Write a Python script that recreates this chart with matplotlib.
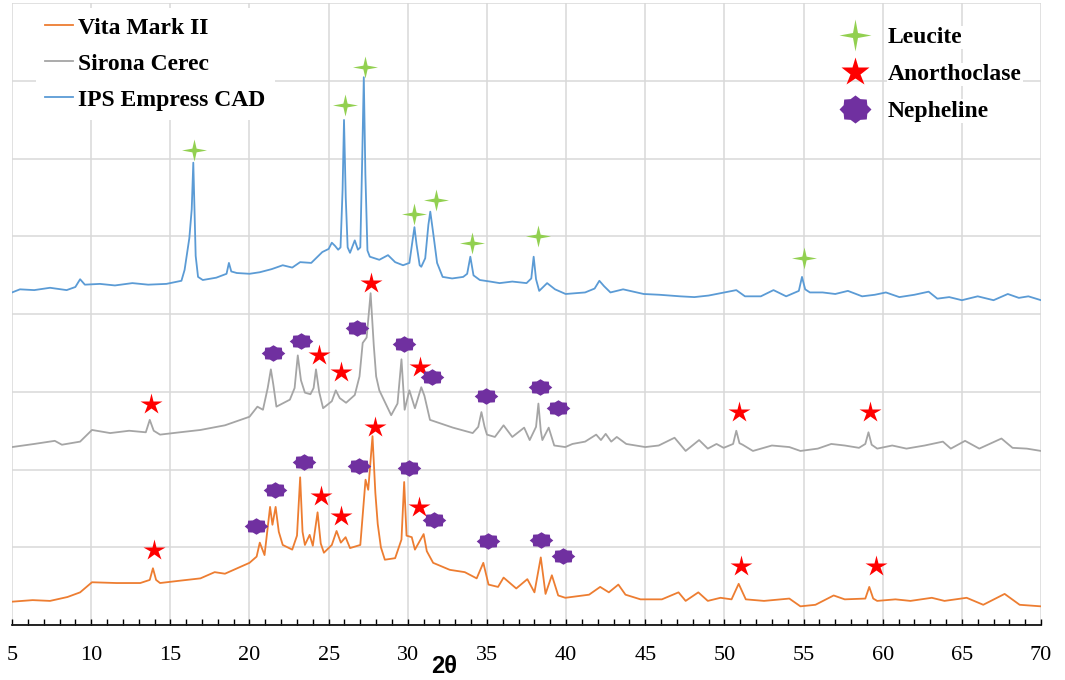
import numpy as np
import matplotlib
matplotlib.use("Agg")
import matplotlib.pyplot as plt
from matplotlib.path import Path
from matplotlib.lines import Line2D
from matplotlib.transforms import blended_transform_factory

# ---- diffraction traces (2-theta, stacked intensity) ----
ips_tt = [5.0, 5.5, 6.4, 7.4, 8.45, 9.0, 9.3, 9.6, 10.55, 11.5, 12.6, 13.6, 14.75, 15.7, 15.9,
          16.2, 16.35, 16.45, 16.6, 16.75, 17.05, 17.9, 18.55, 18.7, 18.85, 19.2, 20.0, 20.65,
          21.4, 22.1, 22.7, 23.2, 23.9, 24.6, 25.0, 25.2, 25.4, 25.6, 25.75, 25.88, 25.97, 26.08,
          26.2, 26.35, 26.65, 26.85, 27.0, 27.12, 27.22, 27.32, 27.45, 27.6, 28.2, 28.75, 29.2,
          29.7, 30.1, 30.3, 30.42, 30.55, 30.75, 30.85, 31.1, 31.3, 31.42, 31.6, 31.85, 32.2, 32.8,
          33.5, 33.75, 33.95, 34.15, 34.55, 35.2, 35.8, 36.6, 37.5, 37.8, 37.95, 38.1, 38.3, 38.8,
          39.3, 39.97, 41.2, 41.8, 42.1, 42.4, 42.8, 43.6, 44.9, 45.9, 47.2, 48.1, 49.0, 49.75,
          50.75, 51.3, 52.3, 53.1, 53.9, 54.7, 54.9, 55.1, 55.4, 56.2, 57.0, 57.8, 58.7, 59.5,
          60.2, 61.05, 62.0, 62.9, 63.45, 64.2, 65.0, 66.0, 67.0, 67.9, 68.6, 69.2, 70.0]
ips_i = [4.28, 4.32, 4.31, 4.34, 4.31, 4.35, 4.45, 4.38, 4.39, 4.37, 4.40, 4.38, 4.39, 4.43, 4.57,
         4.98, 5.35, 5.95, 4.75, 4.48, 4.44, 4.47, 4.52, 4.66, 4.55, 4.53, 4.52, 4.54,
         4.58, 4.63, 4.60, 4.67, 4.66, 4.80, 4.84, 4.92, 4.88, 4.83, 4.86, 5.60, 6.50, 5.50,
         4.86, 4.79, 4.95, 4.83, 4.86, 6.00, 7.05, 5.80, 4.82, 4.74, 4.70, 4.76, 4.67,
         4.63, 4.66, 4.95, 5.12, 4.90, 4.63, 4.61, 4.72, 5.15, 5.32, 5.05, 4.66, 4.48, 4.46,
         4.48, 4.52, 4.74, 4.50, 4.44, 4.42, 4.40, 4.42, 4.40, 4.46, 4.74, 4.45, 4.30, 4.40,
         4.32, 4.26, 4.28, 4.33, 4.43, 4.36, 4.28, 4.32, 4.26, 4.25, 4.23, 4.22, 4.24, 4.27,
         4.31, 4.23, 4.23, 4.31, 4.23, 4.30, 4.48, 4.32, 4.28, 4.28, 4.26, 4.30, 4.23, 4.25,
         4.28, 4.22, 4.25, 4.29, 4.20, 4.22, 4.18, 4.23, 4.18, 4.26, 4.21, 4.23, 4.18]

cerec_tt = [5.0, 6.4, 7.7, 8.15, 9.3, 10.05, 11.2, 12.4, 13.45, 13.7, 13.95, 14.35, 15.6, 16.9,
            18.45, 20.0, 20.5, 20.85, 21.15, 21.35, 21.5, 21.7, 22.55, 22.85, 23.05, 23.25, 23.5,
            23.85, 24.05, 24.2, 24.4, 24.65, 25.2, 25.45, 25.7, 26.1, 26.65, 26.95, 27.15, 27.4,
            27.65, 27.85, 28.0, 28.2, 28.95, 29.35, 29.6, 29.8, 30.1, 30.45, 30.85, 31.05, 31.4,
            32.85, 34.1, 34.45, 34.65, 34.85, 35.0, 35.5, 36.05, 36.6, 37.35, 37.7, 38.1, 38.25,
            38.4, 38.5, 38.9, 39.25, 39.95, 40.4, 41.2, 41.9, 42.2, 42.5, 42.85, 43.2, 43.8, 45.0,
            45.85, 46.85, 47.55, 48.4, 48.95, 49.5, 49.95, 50.55, 50.75, 50.95, 51.15, 51.8, 53.0,
            54.1, 54.8, 55.9, 56.75, 57.6, 58.5, 58.9, 59.1, 59.3, 59.65, 60.6, 61.5, 62.65, 63.8,
            64.3, 65.2, 66.1, 67.5, 68.2, 69.1, 70.0]
cerec_i = [2.29, 2.33, 2.37, 2.32, 2.36, 2.51, 2.47, 2.50, 2.48, 2.64, 2.50, 2.45, 2.48, 2.51,
           2.57, 2.68, 2.81, 2.77, 3.05, 3.29, 3.10, 2.81, 2.90, 3.05, 3.47, 3.15, 2.99,
           2.97, 3.05, 3.29, 3.00, 2.79, 2.88, 3.02, 2.92, 2.86, 2.96, 3.20, 3.63, 3.70,
           4.27, 3.60, 3.20, 3.02, 2.70, 2.85, 3.42, 2.77, 3.02, 2.79, 3.06, 2.95, 2.64,
           2.54, 2.47, 2.55, 2.74, 2.55, 2.45, 2.42, 2.57, 2.42, 2.54, 2.38, 2.55, 2.85,
           2.50, 2.38, 2.54, 2.31, 2.29, 2.33, 2.36, 2.45, 2.38, 2.46, 2.36, 2.42, 2.33, 2.29,
           2.31, 2.41, 2.24, 2.38, 2.27, 2.33, 2.28, 2.33, 2.50, 2.34, 2.32, 2.24, 2.31,
           2.29, 2.24, 2.27, 2.33, 2.31, 2.28, 2.33, 2.48, 2.32, 2.27, 2.31, 2.27, 2.31, 2.36,
           2.27, 2.37, 2.27, 2.40, 2.28, 2.27, 2.24]

vita_tt = [5.0, 6.3, 7.4, 8.5, 9.3, 10.05, 11.6, 13.1, 13.7, 13.9, 14.1, 14.35, 15.6, 16.9, 17.8,
           18.45, 20.0, 20.45, 20.65, 20.95, 21.3, 21.45, 21.65, 21.85, 22.1, 22.7, 23.0, 23.2,
           23.35, 23.5, 23.8, 24.0, 24.3, 24.5, 24.7, 25.2, 25.5, 25.77, 26.07, 26.35, 27.0,
           27.33, 27.5, 27.77, 27.95, 28.1, 28.3, 28.55, 29.2, 29.6, 29.77, 29.92, 30.25, 30.45,
           31.0, 31.2, 31.6, 32.65, 33.6, 34.35, 34.77, 35.1, 35.7, 36.05, 36.85, 37.55, 38.0,
           38.4, 38.7, 39.1, 39.5, 39.95, 41.45, 42.15, 42.7, 43.3, 43.75, 44.7, 46.05, 47.1,
           47.55, 48.35, 48.95, 49.75, 50.45, 50.9, 51.35, 52.5, 54.1, 54.8, 55.75, 56.9, 57.6,
           58.9, 59.15, 59.4, 59.65, 60.8, 61.75, 63.1, 63.9, 65.3, 66.35, 67.7, 68.65, 70.0]
vita_i = [0.30, 0.32, 0.31, 0.36, 0.42, 0.55, 0.54, 0.54, 0.58, 0.73, 0.58, 0.54, 0.57, 0.60, 0.68,
          0.66, 0.80, 0.88, 1.06, 0.90, 1.52, 1.29, 1.52, 1.20, 1.03, 0.97, 1.15, 1.90,
          1.20, 1.03, 1.16, 1.02, 1.45, 1.05, 0.93, 1.03, 1.21, 1.06, 1.13, 0.99, 1.03,
          1.87, 1.74, 2.43, 1.70, 1.30, 1.00, 0.84, 0.86, 1.10, 1.84, 1.15, 1.13, 0.97,
          1.17, 0.95, 0.80, 0.71, 0.68, 0.60, 0.80, 0.52, 0.49, 0.61, 0.47, 0.59, 0.42,
          0.87, 0.40, 0.64, 0.38, 0.35, 0.39, 0.49, 0.42, 0.52, 0.39, 0.33, 0.33, 0.42,
          0.31, 0.42, 0.31, 0.35, 0.33, 0.53, 0.33, 0.31, 0.34, 0.24, 0.26, 0.38, 0.33,
          0.34, 0.49, 0.34, 0.31, 0.33, 0.31, 0.35, 0.31, 0.35, 0.26, 0.40, 0.26, 0.24]

# ---- phase markers ----
leucite_x = [16.50, 26.04, 27.30, 30.39, 31.78, 34.06, 38.23, 55.03]
leucite_y = [6.11, 6.69, 7.18, 5.29, 5.47, 4.91, 5.00, 4.72]

anorth_x = [13.78, 24.39, 25.78, 27.68, 30.77, 50.93, 59.20,
            13.97, 24.52, 25.78, 27.93, 30.71, 51.05, 59.58]
anorth_y = [2.84, 3.47, 3.25, 4.40, 3.32, 2.74, 2.74,
            0.96, 1.66, 1.40, 2.55, 1.52, 0.76, 0.76]

neph_x = [21.49, 23.26, 26.79, 29.76, 31.53, 34.94, 38.35, 39.49,
          20.41, 21.61, 23.45, 26.92, 30.08, 31.66, 35.07, 38.42, 39.81]
neph_y = [3.50, 3.65, 3.82, 3.61, 3.19, 2.95, 3.06, 2.79,
          1.27, 1.74, 2.10, 2.05, 2.02, 1.35, 1.08, 1.09, 0.89]

series_labels = ["Vita Mark II", "Sirona Cerec", "IPS Empress CAD"]
series_colors = ["#ED7D31", "#A5A5A5", "#5B9BD5"]
phase_labels = ["Leucite", "Anorthoclase", "Nepheline"]
phase_colors = ["#92D050", "#FF0000", "#7030A0"]
x_ticks = list(range(5, 71, 5))


def star_path(points, inner, yscale=1.0):
    base = Path.unit_regular_star(points, innerCircle=inner)
    verts = base.vertices.copy()
    verts[:, 1] *= yscale
    return Path(verts, base.codes)


leucite_mk = star_path(4, 0.24, 0.88)
leucite_leg = star_path(4, 0.22, 1.0)
neph_mk = star_path(8, 0.80, 0.70)
neph_leg = star_path(8, 0.80, 0.88)

fig = plt.figure(figsize=(10.65, 6.8), dpi=100)
ax = fig.add_axes([0.0113, 0.0809, 0.9662, 0.9141])
ax.set_xlim(5, 70)
ax.set_ylim(0, 8)

serif = ["Liberation Serif", "DejaVu Serif"]

lines = []
for tt, inten, lab, col in zip([vita_tt, cerec_tt, ips_tt], [vita_i, cerec_i, ips_i],
                               series_labels, series_colors):
    ln, = ax.plot(tt, inten, color=col, lw=1.3, label=lab, zorder=3)
    lines.append(ln)

ax.plot(leucite_x, leucite_y, linestyle="none", marker=leucite_mk, markersize=18,
        color=phase_colors[0], mec="none", zorder=4)
ax.plot(anorth_x, anorth_y, linestyle="none", marker="*", markersize=16,
        color=phase_colors[1], mec="none", zorder=4)
ax.plot(neph_x, neph_y, linestyle="none", marker=neph_mk, markersize=17,
        color=phase_colors[2], mec="none", zorder=4)

# grid and axes
ax.set_xticks(x_ticks)
ax.set_xticks(np.arange(5, 71, 1), minor=True)
ax.set_yticks(np.arange(0, 9, 1))
ax.grid(True, which="major", color="#D9D9D9", lw=1.1, zorder=0)
ax.set_axisbelow(True)
for s in ["left", "right", "top"]:
    ax.spines[s].set_visible(False)
ax.spines["bottom"].set_color("black")
ax.spines["bottom"].set_linewidth(1.2)
ax.spines["bottom"].set_zorder(5)
ax.tick_params(axis="y", left=False, labelleft=False)
ax.tick_params(axis="x", which="both", direction="in", length=4.5, width=1.0,
               color="black", pad=15)
for t in ax.get_xticklabels():
    t.set_fontfamily(serif)
    t.set_fontsize(16)

ax.text(32.3, -0.066, "2θ", transform=blended_transform_factory(ax.transData, ax.transAxes),
        ha="center", va="center", fontsize=17, fontweight="bold",
        family=["Liberation Sans", "DejaVu Sans"])

# series legend
leg1 = ax.legend(handles=lines, loc="upper left", bbox_to_anchor=(0.0229, 0.993),
                 frameon=True, facecolor="white", edgecolor="none", framealpha=1.0,
                 fancybox=False, borderpad=0.4, handlelength=1.19, handletextpad=0.21,
                 labelspacing=0.61, borderaxespad=0.0,
                 prop={"family": serif, "weight": "bold", "size": 17})
leg1.set_zorder(6)
ax.add_artist(leg1)

# phase legend
phase_handles = [
    Line2D([], [], linestyle="none", marker=leucite_leg, markersize=23,
           color=phase_colors[0], mec="none"),
    Line2D([], [], linestyle="none", marker="*", markersize=21,
           color=phase_colors[1], mec="none"),
    Line2D([], [], linestyle="none", marker=neph_leg, markersize=23,
           color=phase_colors[2], mec="none"),
]
leg2 = ax.legend(handles=phase_handles, labels=phase_labels, loc="upper left",
                 bbox_to_anchor=(0.7963, 0.978), frameon=False, borderpad=0.4,
                 handlelength=1.2, handletextpad=0.80, labelspacing=0.65,
                 borderaxespad=0.0,
                 prop={"family": serif, "weight": "bold", "size": 17})
for t in leg2.get_texts():
    t.set_bbox(dict(facecolor="white", edgecolor="none", pad=1))
leg2.set_zorder(6)

fig.savefig("out.png", dpi=100)
